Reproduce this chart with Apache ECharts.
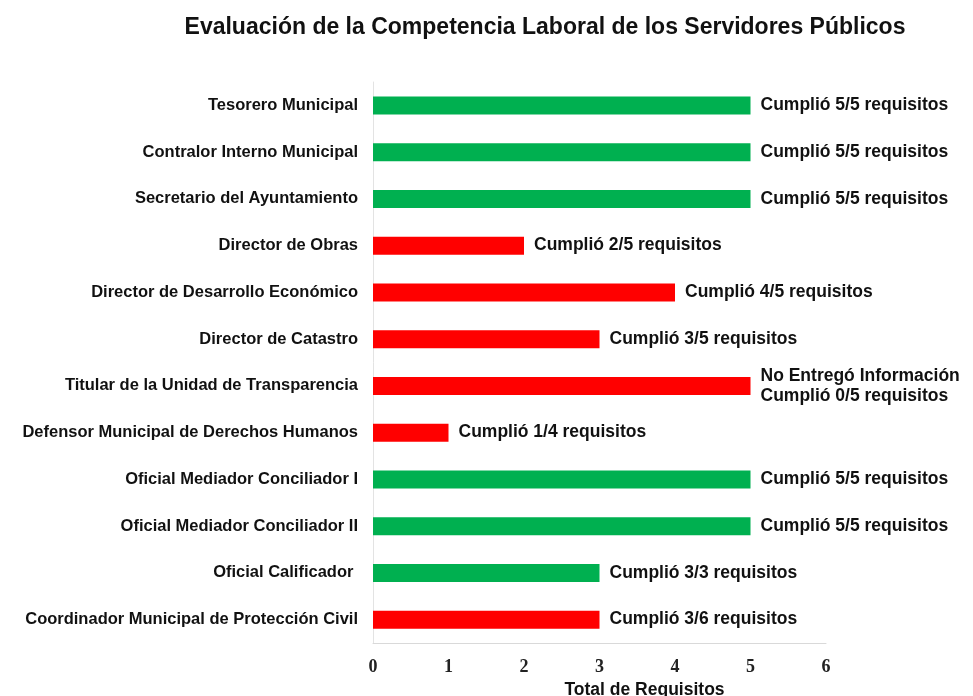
<!DOCTYPE html>
<html>
<head>
<meta charset="utf-8">
<script src="https://cdn.jsdelivr.net/npm/echarts@6/dist/echarts.min.js"></script>
<style>html,body{margin:0;padding:0;background:#fff;}#chart{width:973px;height:696px;}</style>
</head>
<body>
<div id="chart"></div>
<script>
var titleText = 'Evaluación de la Competencia Laboral de los Servidores Públicos';
var axisName = 'Total de Requisitos';
var categories = [
  'Tesorero Municipal',
  'Contralor Interno Municipal',
  'Secretario del Ayuntamiento',
  'Director de Obras',
  'Director de Desarrollo Económico',
  'Director de Catastro',
  'Titular de la Unidad de Transparencia',
  'Defensor Municipal de Derechos Humanos',
  'Oficial Mediador Conciliador I',
  'Oficial Mediador Conciliador II',
  'Oficial Calificador ',
  'Coordinador Municipal de Protección Civil'
];
var values = [5, 5, 5, 2, 4, 3, 5, 1, 5, 5, 3, 3];
var compliance = ['ok','ok','ok','fail','fail','fail','fail','fail','ok','ok','ok','fail'];
var labels = [
  'Cumplió 5/5 requisitos',
  'Cumplió 5/5 requisitos',
  'Cumplió 5/5 requisitos',
  'Cumplió 2/5 requisitos',
  'Cumplió 4/5 requisitos',
  'Cumplió 3/5 requisitos',
  'No Entregó Información\nCumplió 0/5 requisitos',
  'Cumplió 1/4 requisitos',
  'Cumplió 5/5 requisitos',
  'Cumplió 5/5 requisitos',
  'Cumplió 3/3 requisitos',
  'Cumplió 3/6 requisitos'
];
var xTicks = [0, 1, 2, 3, 4, 5, 6];

var colorMap = { ok: '#00B050', fail: '#FF0000' };
var cats = categories.slice().reverse();
var data = values.map(function (v, i) {
  return { value: v, itemStyle: { color: colorMap[compliance[i]] }, label: { formatter: labels[i] } };
}).reverse();

var chart = echarts.init(document.getElementById('chart'));
chart.setOption({
  animation: false,
  title: {
    text: titleText,
    left: 540, top: 11, textAlign: 'center',
    textStyle: { fontFamily: 'Liberation Sans, Arial, sans-serif', fontWeight: 'bold', fontSize: 23, color: '#111' }
  },
  grid: { left: 373, right: 147, top: 82, bottom: 53, outerBoundsMode: 'none', containLabel: false },
  xAxis: {
    type: 'value', min: xTicks[0], max: xTicks[xTicks.length - 1], interval: 1,
    name: axisName, nameLocation: 'middle', nameGap: 36,
    nameTextStyle: { fontFamily: 'Liberation Sans, Arial, sans-serif', fontWeight: 'bold', fontSize: 17.5, color: '#111', padding: [0, 0, 0, 90] },
    axisLine: { show: true, lineStyle: { color: '#d9d9d9', width: 1 } },
    axisTick: { show: false },
    splitLine: { show: false },
    axisLabel: { margin: 15, fontFamily: 'Liberation Serif, Times New Roman, serif', fontWeight: 'bold', fontSize: 18, color: '#222' }
  },
  yAxis: {
    type: 'category', data: cats,
    axisLine: { show: true, lineStyle: { color: '#e3e3e3', width: 1 } },
    axisTick: { show: false },
    axisLabel: { margin: 15, fontFamily: 'Liberation Sans, Arial, sans-serif', fontWeight: 'bold', fontSize: 16.5, color: '#111' }
  },
  series: [{
    type: 'bar', data: data, barWidth: 18,
    label: {
      show: true, position: 'right', distance: 10,
      fontFamily: 'Liberation Sans, Arial, sans-serif', fontWeight: 'bold', fontSize: 17.5, color: '#111', lineHeight: 20, align: 'left'
    }
  }]
});
</script>
</body>
</html>
